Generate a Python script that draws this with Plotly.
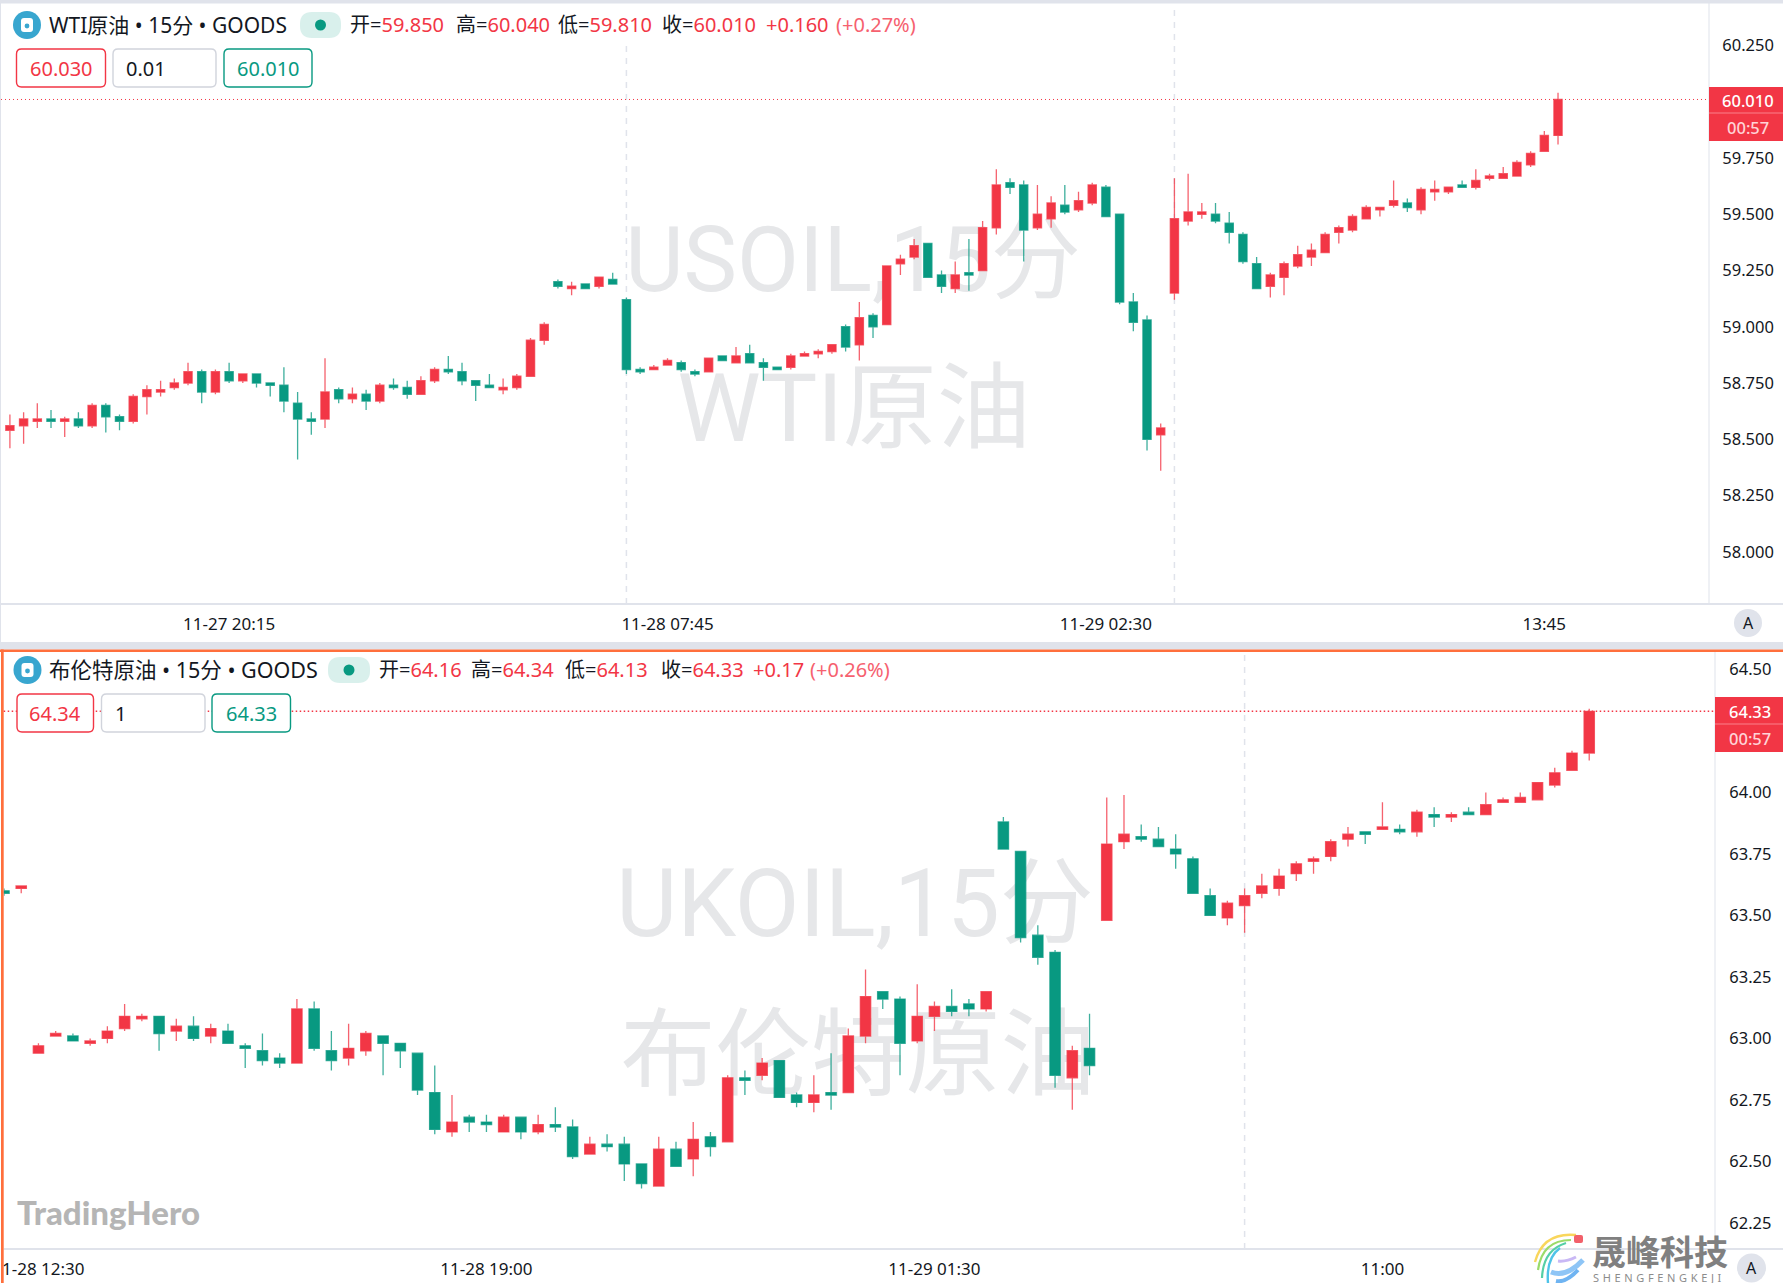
import plotly.graph_objects as go

W, H = 1783, 1283
FONT = "Noto Sans, Noto Sans CJK SC, sans-serif"
RED = "#F23645"
GREEN = "#089981"
GRID = "#E0E3EB"
BLUE_ICON = "#38A6CF"
ORANGE = "#FF6F3C"
WATERMARK = "#E6E7E9"

# USOIL 15 minute candles
WTI_OPEN = [58.51,58.54,58.56,58.58,58.59,58.58,58.59,58.56,58.65,58.60,
            58.58,58.69,58.71,58.73,58.75,58.80,58.71,58.80,58.76,58.79,
            58.75,58.74,58.66,58.59,58.59,58.72,58.68,58.70,58.67,58.74,
            58.73,58.70,58.76,58.81,58.80,58.76,58.74,58.72,58.73,58.78,
            58.94,59.20,59.17,59.19,59.18,59.21,59.12,58.81,58.81,58.83,
            58.84,58.80,58.80,58.87,58.84,58.88,58.84,58.82,58.82,58.87,
            58.88,58.89,59.00,58.92,59.05,59.01,59.28,59.31,59.37,59.23,
            59.17,59.24,59.25,59.44,59.64,59.63,59.44,59.48,59.54,59.52,
            59.55,59.62,59.50,59.11,59.03,58.52,59.15,59.47,59.50,59.50,
            59.46,59.41,59.28,59.18,59.22,59.27,59.31,59.33,59.42,59.43,
            59.48,59.52,59.54,59.55,59.52,59.60,59.60,59.63,59.62,59.66,
            59.66,59.67,59.72,59.78,59.85]
WTI_HIGH = [58.53,58.61,58.62,58.66,58.63,58.60,58.62,58.66,58.66,58.61,
            58.70,58.74,58.76,58.77,58.84,58.81,58.81,58.84,58.79,58.79,
            58.75,58.82,58.71,58.62,58.86,58.73,58.73,58.72,58.75,58.77,
            58.76,58.78,58.82,58.87,58.84,58.76,58.79,58.77,58.79,58.95,
            59.02,59.21,59.20,59.19,59.22,59.24,59.13,58.82,58.83,58.86,
            58.85,58.81,58.86,58.87,58.91,58.92,58.86,58.82,58.88,58.89,
            58.90,58.92,59.01,59.11,59.06,59.27,59.32,59.39,59.37,59.25,
            59.29,59.39,59.47,59.70,59.66,59.65,59.63,59.58,59.63,59.60,
            59.64,59.63,59.50,59.15,59.05,58.57,59.66,59.68,59.55,59.55,
            59.51,59.42,59.31,59.24,59.29,59.36,59.37,59.42,59.45,59.50,
            59.54,59.53,59.65,59.57,59.62,59.65,59.62,59.65,59.70,59.68,
            59.71,59.74,59.78,59.87,60.04]
WTI_LOW = [58.50,58.46,58.48,58.55,58.55,58.51,58.55,58.55,58.53,58.54,
           58.57,58.61,58.69,58.72,58.74,58.66,58.70,58.75,58.75,58.73,
           58.69,58.62,58.41,58.52,58.55,58.66,58.66,58.63,58.66,58.72,
           58.68,58.70,58.75,58.79,58.74,58.67,58.73,58.70,58.72,58.78,
           58.92,59.17,59.14,59.17,59.17,59.19,58.79,58.79,58.81,58.83,
           58.80,58.78,58.80,58.85,58.84,58.84,58.76,58.81,58.81,58.87,
           58.86,58.88,58.89,58.85,58.95,59.01,59.23,59.30,59.22,59.15,
           59.15,59.16,59.25,59.41,59.59,59.29,59.43,59.44,59.50,59.51,
           59.54,59.49,59.10,58.98,58.45,58.36,59.12,59.45,59.48,59.46,
           59.37,59.28,59.17,59.13,59.14,59.26,59.27,59.33,59.37,59.42,
           59.48,59.49,59.53,59.51,59.50,59.56,59.59,59.62,59.61,59.65,
           59.66,59.67,59.71,59.78,59.81]
WTI_CLOSE = [58.53,58.56,58.59,58.59,58.58,58.59,58.56,58.65,58.60,58.58,
             58.69,58.72,58.72,58.75,58.80,58.71,58.80,58.76,58.79,58.75,
             58.74,58.67,58.59,58.58,58.71,58.68,58.70,58.67,58.74,58.73,
             58.70,58.76,58.81,58.80,58.76,58.74,58.73,58.73,58.78,58.94,
             59.01,59.18,59.18,59.17,59.22,59.19,58.81,58.80,58.82,58.85,
             58.81,58.79,58.86,58.85,58.87,58.84,58.82,58.81,58.87,58.88,
             58.89,58.92,58.91,59.04,59.00,59.27,59.30,59.36,59.22,59.18,
             59.23,59.23,59.44,59.63,59.62,59.43,59.50,59.55,59.51,59.56,
             59.63,59.49,59.11,59.02,58.50,58.55,59.48,59.51,59.51,59.47,
             59.42,59.29,59.17,59.23,59.28,59.32,59.34,59.41,59.44,59.49,
             59.53,59.53,59.56,59.53,59.61,59.61,59.62,59.62,59.65,59.67,
             59.68,59.73,59.77,59.85,60.01]

# UKOIL 15 minute candles
BRENT_OPEN = [63.60,63.61,62.94,63.01,63.01,62.98,63.00,63.04,63.08,63.09,
              63.03,63.05,63.01,63.03,62.97,62.95,62.92,62.90,63.12,62.95,
              62.92,62.95,63.01,62.98,62.94,62.78,62.62,62.68,62.66,62.62,
              62.68,62.62,62.65,62.64,62.53,62.57,62.57,62.49,62.40,62.55,
              62.51,62.60,62.58,62.84,62.85,62.91,62.77,62.74,62.78,62.78,
              63.01,63.19,63.16,62.99,63.09,63.13,63.14,63.12,63.88,63.76,
              63.42,63.35,62.84,62.96,63.48,63.80,63.82,63.81,63.77,63.73,
              63.58,63.49,63.54,63.59,63.61,63.67,63.72,63.74,63.81,63.84,
              63.85,63.85,63.84,63.91,63.90,63.92,63.91,63.96,63.96,63.97,
              64.03,64.09,64.16]
BRENT_HIGH = [63.61,63.62,62.98,63.03,63.02,63.00,63.05,63.14,63.10,63.09,
              63.08,63.09,63.06,63.06,62.98,63.02,62.94,63.16,63.15,63.03,
              63.06,63.03,63.01,62.98,62.94,62.89,62.77,62.69,62.69,62.69,
              62.68,62.69,62.72,62.67,62.60,62.61,62.60,62.49,62.60,62.58,
              62.66,62.62,62.85,62.87,62.92,62.91,62.78,62.85,62.94,63.04,
              63.28,63.19,63.17,63.22,63.15,63.20,63.16,63.19,63.90,63.76,
              63.46,63.36,62.97,63.10,63.98,63.99,63.87,63.86,63.83,63.74,
              63.61,63.56,63.61,63.67,63.69,63.72,63.74,63.81,63.86,63.84,
              63.96,63.87,63.93,63.94,63.92,63.94,64.00,63.98,64.00,64.04,
              64.10,64.17,64.34]
BRENT_LOW = [63.58,63.59,62.94,63.01,62.99,62.97,62.98,63.03,63.07,62.95,
             62.99,62.99,62.98,62.98,62.88,62.89,62.88,62.90,62.95,62.87,
             62.89,62.93,62.85,62.88,62.77,62.61,62.60,62.62,62.62,62.62,
             62.59,62.61,62.62,62.51,62.53,62.54,62.42,62.39,62.40,62.48,
             62.44,62.52,62.58,62.77,62.83,62.76,62.72,62.70,62.71,62.78,
             62.98,63.12,62.85,62.98,63.03,63.09,63.09,63.11,63.77,63.39,
             63.30,62.80,62.71,62.85,63.48,63.77,63.80,63.78,63.69,63.59,
             63.50,63.46,63.43,63.57,63.58,63.64,63.67,63.72,63.78,63.79,
             63.85,63.83,63.82,63.86,63.88,63.91,63.91,63.96,63.96,63.97,
             64.02,64.09,64.13]
BRENT_CLOSE = [63.59,63.62,62.97,63.02,62.99,62.99,63.03,63.09,63.09,63.02,
               63.05,63.00,63.04,62.98,62.96,62.91,62.90,63.12,62.96,62.91,
               62.96,63.02,62.98,62.95,62.79,62.63,62.66,62.66,62.65,62.68,
               62.62,62.65,62.64,62.52,62.57,62.56,62.49,62.41,62.55,62.48,
               62.59,62.56,62.84,62.83,62.90,62.76,62.74,62.77,62.77,63.01,
               63.17,63.16,62.98,63.09,63.13,63.11,63.12,63.19,63.77,63.41,
               63.33,62.85,62.95,62.89,63.79,63.83,63.81,63.78,63.75,63.59,
               63.50,63.55,63.58,63.62,63.66,63.71,63.73,63.80,63.83,63.83,
               63.86,63.84,63.92,63.90,63.91,63.91,63.95,63.97,63.98,64.04,
               64.08,64.16,64.33]

WTI_TICK_POS = [17, 49, 81, 113]
WTI_TICK_TEXT = ["11-27 20:15", "11-28 07:45", "11-29 02:30", "13:45"]
BRENT_TICK_POS = [2, 28, 54, 80]
BRENT_TICK_TEXT = ["11-28 12:30", "11-28 19:00", "11-29 01:30", "11:00"]
WTI_PRICE_TICKS = [58.0, 58.25, 58.5, 58.75, 59.0, 59.25, 59.5, 59.75, 60.25]
BRENT_PRICE_TICKS = [62.25, 62.5, 62.75, 63.0, 63.25, 63.5, 63.75, 64.0, 64.5]
WTI_SESSIONS = [46, 86]
BRENT_SESSIONS = [72]

# panel geometry in page pixels
TOP_BOTTOM_PX = 604
TOP_RIGHT_PX = 1709
LOW_TOP_PX = 652
LOW_BOTTOM_PX = 1249
LOW_LEFT_PX = 3.7
LOW_RIGHT_PX = 1715


def px(x):
    return x / W


def py(y):
    return 1 - y / H


def rect(x0, y0, x1, y1, fill, layer="above"):
    return dict(type="rect", xref="paper", yref="paper", x0=px(x0), x1=px(x1), y0=py(y0), y1=py(y1),
                fillcolor=fill, line_width=0, layer=layer)


def circle(cx, cy, r, fill):
    return dict(type="circle", xref="paper", yref="paper", x0=px(cx - r), x1=px(cx + r), y0=py(cy - r), y1=py(cy + r),
                fillcolor=fill, line_width=0)


def round_rect(x0, y0, x1, y1, r, fill, edge=None, width=0):
    p = (f"M {px(x0 + r)} {py(y0)} L {px(x1 - r)} {py(y0)} Q {px(x1)} {py(y0)} {px(x1)} {py(y0 + r)} "
         f"L {px(x1)} {py(y1 - r)} Q {px(x1)} {py(y1)} {px(x1 - r)} {py(y1)} "
         f"L {px(x0 + r)} {py(y1)} Q {px(x0)} {py(y1)} {px(x0)} {py(y1 - r)} "
         f"L {px(x0)} {py(y0 + r)} Q {px(x0)} {py(y0)} {px(x0 + r)} {py(y0)} Z")
    return dict(type="path", xref="paper", yref="paper", path=p, fillcolor=fill,
                line=dict(color=edge or fill, width=width))


def curve(pts, color, width):
    a, b, c = pts
    p = f"M {px(a[0])} {py(a[1])} Q {px(b[0])} {py(b[1])} {px(c[0])} {py(c[1])}"
    return dict(type="path", xref="paper", yref="paper", path=p, line=dict(color=color, width=width))


def note(x, y, text, size, color="#131722", anchor="left", weight=None, family=FONT):
    return dict(xref="paper", yref="paper", x=px(x), y=py(y), text=text, showarrow=False, xanchor=anchor,
                yanchor="middle", font=dict(family=family, size=size, color=color, weight=weight))


def candles(o, h, l, c, xa, ya):
    return go.Candlestick(x=list(range(len(o))), open=o, high=h, low=l, close=c, xaxis=xa, yaxis=ya,
                          increasing=dict(fillcolor=RED, line=dict(color="rgba(242,54,69,0.78)", width=1.3)),
                          decreasing=dict(fillcolor=GREEN, line=dict(color="rgba(8,153,129,0.78)", width=1.3)),
                          whiskerwidth=0, showlegend=False, hoverinfo="skip")


def header(y, icon_x, name, name_x, name_size, pill, fields, change_parts, buttons):
    shapes = []
    notes = []
    shapes.append(circle(icon_x, y, 14, BLUE_ICON))
    shapes.append(round_rect(icon_x - 6, y - 7, icon_x + 6, y + 7, 3, "white"))
    shapes.append(circle(icon_x, y + 1, 2.4, BLUE_ICON))
    notes.append(note(name_x, y, name, name_size))
    shapes.append(round_rect(pill[0], y - 13, pill[1], y + 13, 12, "#D9F0EC"))
    shapes.append(circle((pill[0] + pill[1]) / 2, y, 5.5, GREEN))
    for x, label, value in fields:
        notes.append(note(x, y, f'{label}=<span style="color:{RED}">{value}</span>', 20))
    for x, text, col in change_parts:
        notes.append(note(x, y, text, 20, col))
    for x0, x1, edge, text, col, align in buttons:
        y0, y1 = y + 24, y + 62
        shapes.append(round_rect(x0, y0, x1, y1, 5, "white", edge, 1.4))
        if align == "center":
            notes.append(note((x0 + x1) / 2, (y0 + y1) / 2 + 0.5, text, 20, col, "center"))
        else:
            notes.append(note(x0 + 11, (y0 + y1) / 2 + 0.5, text, 20, col))
    return shapes, notes


fig = go.Figure()
fig.add_trace(candles(WTI_OPEN, WTI_HIGH, WTI_LOW, WTI_CLOSE, "x", "y"))
fig.add_trace(candles(BRENT_OPEN, BRENT_HIGH, BRENT_LOW, BRENT_CLOSE, "x2", "y2"))

shapes = []
notes = []

# watermarks sit under the candles
for cx, cy, txt, size in [(853, 253, "USOIL,15分", 90), (854, 402, "WTI原油", 94),
                          (855, 897, "UKOIL,15分", 94), (858, 1048, "布伦特原油", 95)]:
    shapes.append(dict(type="rect", xref="paper", yref="paper", x0=px(cx - 320), x1=px(cx + 320), y0=py(cy + 60), y1=py(cy - 60),
                       line_width=0, fillcolor="rgba(0,0,0,0)", layer="below",
                       label=dict(text=txt, textposition="middle center",
                                  font=dict(family="Roboto, Noto Sans CJK SC, sans-serif", size=size, color=WATERMARK))))

# session separators
for s in WTI_SESSIONS:
    top = 41 if s == WTI_SESSIONS[0] else 4
    shapes.append(dict(type="line", xref="x", yref="paper", x0=s, x1=s, y0=py(TOP_BOTTOM_PX), y1=py(top),
                       line=dict(color=GRID, width=1.5, dash="6px,6px"), layer="below"))
for s in BRENT_SESSIONS:
    shapes.append(dict(type="line", xref="x2", yref="paper", x0=s, x1=s, y0=py(LOW_BOTTOM_PX), y1=py(LOW_TOP_PX),
                       line=dict(color=GRID, width=1.5, dash="6px,6px"), layer="below"))

# panel frames
shapes.append(rect(0, 0, W, 3.5, GRID))
shapes.append(rect(0, 0, 1, 642, GRID))
shapes.append(rect(0, TOP_BOTTOM_PX - 1, W, TOP_BOTTOM_PX + 1, GRID))
shapes.append(rect(TOP_RIGHT_PX - 0.5, 3, TOP_RIGHT_PX + 0.5, TOP_BOTTOM_PX, GRID))
shapes.append(rect(0, 642, W, 649.5, GRID))
shapes.append(rect(LOW_RIGHT_PX - 0.5, LOW_TOP_PX, LOW_RIGHT_PX + 0.5, LOW_BOTTOM_PX, GRID))
shapes.append(rect(3.7, LOW_BOTTOM_PX - 1, W, LOW_BOTTOM_PX + 1, GRID))
shapes.append(rect(0, 649.5, W, 652, ORANGE))
shapes.append(rect(1, 649.5, 3.7, H, ORANGE))

# last price lines
shapes.append(dict(type="line", xref="paper", yref="y", x0=px(1), x1=px(TOP_RIGHT_PX), y0=WTI_CLOSE[-1], y1=WTI_CLOSE[-1],
                   line=dict(color=RED, width=1, dash="1px,3px")))
shapes.append(dict(type="line", xref="paper", yref="y2", x0=px(LOW_LEFT_PX), x1=px(LOW_RIGHT_PX), y0=BRENT_CLOSE[-1],
                   y1=BRENT_CLOSE[-1], line=dict(color=RED, width=1.5, dash="1.5px,2.5px")))

# last price tags
shapes.append(rect(TOP_RIGHT_PX, 87, W, 141, RED))
shapes.append(rect(TOP_RIGHT_PX, 112.6, W, 113.4, "#F9808B"))
notes.append(note(1748, 100, "60.010", 16.5, "white", "center", weight=500))
notes.append(note(1748, 127, "00:57", 16.5, "#FFD3D7", "center", weight=500))
shapes.append(rect(LOW_RIGHT_PX, 697, W, 752, RED))
shapes.append(rect(LOW_RIGHT_PX, 723.6, W, 724.4, "#F9808B"))
notes.append(note(1750, 711, "64.33", 16.5, "white", "center", weight=500))
notes.append(note(1750, 738, "00:57", 16.5, "#FFD3D7", "center", weight=500))

# legends
sh, nt = header(25, 27, "WTI原油 • 15分 • GOODS", 47, 21, (300, 341),
                [(348, "开", "59.850"), (454, "高", "60.040"), (556, "低", "59.810"), (660, "收", "60.010")],
                [(764, "+0.160", RED), (834, "(+0.27%)", "#F6616F")],
                [(16.5, 105.5, RED, "60.030", RED, "center"), (113, 216, "#D1D4DC", "0.01", "#131722", "left"),
                 (224, 312, GREEN, "60.010", GREEN, "center")])
shapes += sh
notes += nt
sh, nt = header(670, 27.5, "布伦特原油 • 15分 • GOODS", 47, 21.5, (328, 370),
                [(377, "开", "64.16"), (469, "高", "64.34"), (563, "低", "64.13"), (659, "收", "64.33")],
                [(751, "+0.17", RED), (808, "(+0.26%)", "#F6616F")],
                [(17, 93.5, RED, "64.34", RED, "center"), (101.5, 205, "#D1D4DC", "1", "#131722", "left"),
                 (212, 290.5, GREEN, "64.33", GREEN, "center")])
shapes += sh
notes += nt

# auto scale badges
shapes.append(circle(1748, 623, 14, GRID))
notes.append(note(1748, 623, "A", 16, "#131722", "center"))
shapes.append(circle(1751.5, 1268, 14.5, GRID))
notes.append(note(1751.5, 1268, "A", 16, "#131722", "center"))

# brand marks
notes.append(note(15, 1212, "TradingHero", 33, "#B5B5B5", weight=900, family="Lato, " + FONT))
notes.append(note(1590, 1252, "晟峰科技", 34, "#808080", weight=700))
notes.append(note(1591, 1277, "\u2009\u2009".join("SHENGFENGKEJI"), 11, "#8C8C8C"))
for col, w, a, b, c in [("#F9D65C", 2.4, (1576, 1235), (1543, 1232), (1535, 1262)),
                        ("#9BDB6A", 2.2, (1571, 1240), (1542, 1240), (1538, 1270)),
                        ("#55CFA6", 2.2, (1566, 1243), (1543, 1250), (1542, 1278)),
                        ("#4FC3E8", 2.4, (1560, 1248), (1546, 1258), (1548, 1283)),
                        ("#8EC5F6", 5, (1583, 1260), (1566, 1278), (1551, 1272)),
                        ("#6FB4F2", 4, (1578, 1270), (1566, 1283), (1556, 1281)),
                        ("#C9B8F5", 3, (1576, 1257), (1566, 1262), (1558, 1261))]:
    shapes.append(curve((a, b, c), col, w))
shapes.append(round_rect(1574, 1235, 1583, 1243, 2, "#F2606A"))

axis_common = dict(showgrid=False, zeroline=False, showline=False, automargin=False, ticks="outside",
                   tickcolor="rgba(0,0,0,0)", ticklabeloverflow="allow")

fig.update_layout(
    width=W, height=H, margin=dict(l=0, r=0, t=0, b=0), paper_bgcolor="white", plot_bgcolor="rgba(0,0,0,0)",
    font=dict(family=FONT, color="#131722"), showlegend=False, boxgap=0.2, boxgroupgap=0.25,
    shapes=shapes, annotations=notes,
    xaxis=dict(domain=[0, px(TOP_RIGHT_PX)], anchor="y", range=[0.277, 125.02], tickvals=WTI_TICK_POS, ticktext=WTI_TICK_TEXT,
               rangeslider=dict(visible=False), ticklen=5, tickfont=dict(size=17), **axis_common),
    yaxis=dict(domain=[py(TOP_BOTTOM_PX), 1], anchor="x", side="right", range=[57.768, 60.452], tickvals=WTI_PRICE_TICKS,
               tickformat=".3f", ticklen=9, tickfont=dict(size=16.5), **axis_common),
    xaxis2=dict(domain=[px(LOW_LEFT_PX), px(LOW_RIGHT_PX)], anchor="y2", range=[-0.017, 99.3], tickvals=BRENT_TICK_POS,
                ticktext=BRENT_TICK_TEXT, rangeslider=dict(visible=False), ticklen=5, tickfont=dict(size=17), **axis_common),
    yaxis2=dict(domain=[py(LOW_BOTTOM_PX), py(LOW_TOP_PX)], anchor="x2", side="right", range=[62.144, 64.571],
                tickvals=BRENT_PRICE_TICKS, tickformat=".2f", ticklen=10, tickfont=dict(size=16.5), **axis_common),
)

fig.write_html("out.html", config={"displayModeBar": False}, post_script="document.body.style.margin='0';")
